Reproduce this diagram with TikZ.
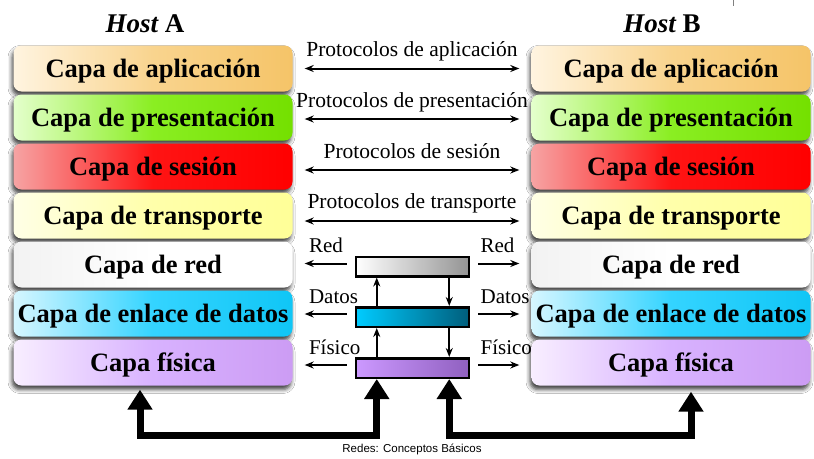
\documentclass[tikz,border=0pt]{standalone}
\usepackage{fontspec}
\setmainfont{Liberation Serif}
\newfontfamily\capfont{Liberation Sans}
\usetikzlibrary{arrows.meta,shadows.blur,calc}

\definecolor{aplL}{HTML}{FFF4E0}\definecolor{aplM}{HTML}{F9D48E}\definecolor{aplR}{HTML}{F5C468}
\definecolor{preL}{HTML}{E4FFCC}\definecolor{preM}{HTML}{8AEE22}\definecolor{preR}{HTML}{74E000}
\definecolor{sesL}{HTML}{F6A4A4}\definecolor{sesM}{HTML}{FF1414}\definecolor{sesR}{HTML}{FF0000}
\definecolor{traL}{HTML}{FFFFE6}\definecolor{traM}{HTML}{FFFFAA}\definecolor{traR}{HTML}{FFFF98}
\definecolor{redL}{HTML}{F2F2F2}\definecolor{redM}{HTML}{FFFFFF}\definecolor{redR}{HTML}{FFFFFF}
\definecolor{enlL}{HTML}{D6F6FF}\definecolor{enlM}{HTML}{34D4FF}\definecolor{enlR}{HTML}{10C6F6}
\definecolor{fisL}{HTML}{F8EEFF}\definecolor{fisM}{HTML}{D8B2FF}\definecolor{fisR}{HTML}{CC9CF4}
\definecolor{datL}{HTML}{00CCFF}\definecolor{datR}{HTML}{005E7C}
\definecolor{phyL}{HTML}{CC99FF}\definecolor{phyR}{HTML}{9060C0}

\begin{document}
\begin{tikzpicture}[x=1pt,y=-1pt,
  layerbox/.style={rounded corners=8pt, minimum width=279pt, minimum height=46pt,
    inner sep=0pt, text height=17pt, text depth=0pt,
    font=\fontsize{26.5}{28}\selectfont\bfseries,
    blur shadow={shadow xshift=-1.5pt, shadow yshift=-4pt, shadow blur radius=4pt, shadow opacity=75}},
  shadeL/.style={left color=#1L, right color=#1R, middle color=#1M},
  routerbox/.style={draw=black, line width=2.5pt, minimum width=113pt, minimum height=19.5pt, inner sep=0pt},
  thinarrow/.style={line width=2pt, -{Stealth[length=9pt,width=7pt]}},
  protarrow/.style={line width=2pt, {Stealth[length=9pt,width=7pt]}-{Stealth[length=9pt,width=7pt]}},
  protlabel/.style={font=\fontsize{21.5}{23}\selectfont, anchor=base, yshift=12pt},
  rlabel/.style={font=\fontsize{21}{22}\selectfont, anchor=base west},
  bigarrow/.style={line width=7pt, {Triangle[width=24pt,length=20pt]}-{Triangle[width=24pt,length=20pt]}},
  hostlabel/.style={font=\fontsize{27}{28}\selectfont\bfseries, anchor=base}
]
\useasboundingbox[fill=white] (0,0) rectangle (814,458);

% Host labels
\node[hostlabel] (hA) at (145,32) {\itshape Host\upshape{} A};
\node[hostlabel] (hB) at (662,32) {\itshape Host\upshape{} B};
\draw[gray, line width=0.8pt] (733,0) -- (733,6);

% Layers
\foreach \n/\c/\t [count=\i] in {1/apl/Capa de aplicación, 2/pre/Capa de presentación, 3/ses/Capa de sesión, 4/tra/Capa de transporte, 5/red/Capa de red, 6/enl/Capa de enlace de datos, 7/fis/Capa física}{
  \node[layerbox, shadeL=\c] (A\n) at (153,{68.5+49*(\i-1)}) {\t};
  \node[layerbox, shadeL=\c] (B\n) at (671,{68.5+49*(\i-1)}) {\t};
}

% Protocol arrows
\draw[protarrow, shorten <=12pt, shorten >=12pt] ([yshift=0pt]A1.east) -- ([yshift=0pt]B1.west)
  node[midway, protlabel] {Protocolos de aplicación};
\draw[protarrow, shorten <=12pt, shorten >=12pt] ([yshift=-1.5pt]A2.east) -- ([yshift=-1.5pt]B2.west)
  node[midway, protlabel] {Protocolos de presentación};
\draw[protarrow, shorten <=12pt, shorten >=12pt] ([yshift=-3.5pt]A3.east) -- ([yshift=-3.5pt]B3.west)
  node[midway, protlabel] {Protocolos de sesión};
\draw[protarrow, shorten <=12pt, shorten >=12pt] ([yshift=-5.5pt]A4.east) -- ([yshift=-5.5pt]B4.west)
  node[midway, protlabel, yshift=1pt] {Protocolos de transporte};

% Router boxes
\node[routerbox, left color=white, right color=black!42] (Rred) at (412.5,266.5) {};
\node[routerbox, left color=datL, right color=datR] (Rdat) at (412.5,317) {};
\node[routerbox, left color=phyL, right color=phyR] (Rfis) at (412.5,368) {};

% Vertical arrows between router boxes
\draw[thinarrow] ([xshift=22pt]Rdat.north west) -- ([xshift=22pt]Rred.south west);
\draw[thinarrow] ([xshift=22pt]Rfis.north west) -- ([xshift=22pt]Rdat.south west);
\draw[thinarrow] ([xshift=-21pt]Rred.south east) -- ([xshift=-21pt]Rdat.north east);
\draw[thinarrow] ([xshift=-21pt]Rdat.south east) -- ([xshift=-21pt]Rfis.north east);

% Side arrows and labels
\foreach \r/\a/\l in {Rred/5/Red, Rdat/6/Datos, Rfis/7/Físico}{
  \draw[thinarrow, shorten <=8pt, shorten >=12pt] ([yshift=3pt]\r.west) -- ([yshift=3pt]\r.west -| A\a.east)
    node[pos=1, rlabel, xshift=12pt, yshift=11pt] {\l};
  \draw[thinarrow, shorten <=8pt, shorten >=12pt] ([yshift=3pt]\r.east) -- ([yshift=3pt]\r.east -| B\a.west)
    node[pos=0, rlabel, xshift=6pt, yshift=11pt] {\l};
}

% Thick physical link arrows
\draw[bigarrow] ([xshift=22pt]Rfis.south west) -- ++(0,56) -| ([xshift=-13pt,yshift=-4pt]A7.south);
\draw[bigarrow] ([xshift=-21pt]Rfis.south east) -- ++(0,56) -| ([xshift=20pt,yshift=-6pt]B7.south);

% Caption
\node[font=\capfont\fontsize{11.5}{13}\selectfont] (cap) at (412,449) {Redes: Conceptos Básicos};
\end{tikzpicture}
\end{document}
